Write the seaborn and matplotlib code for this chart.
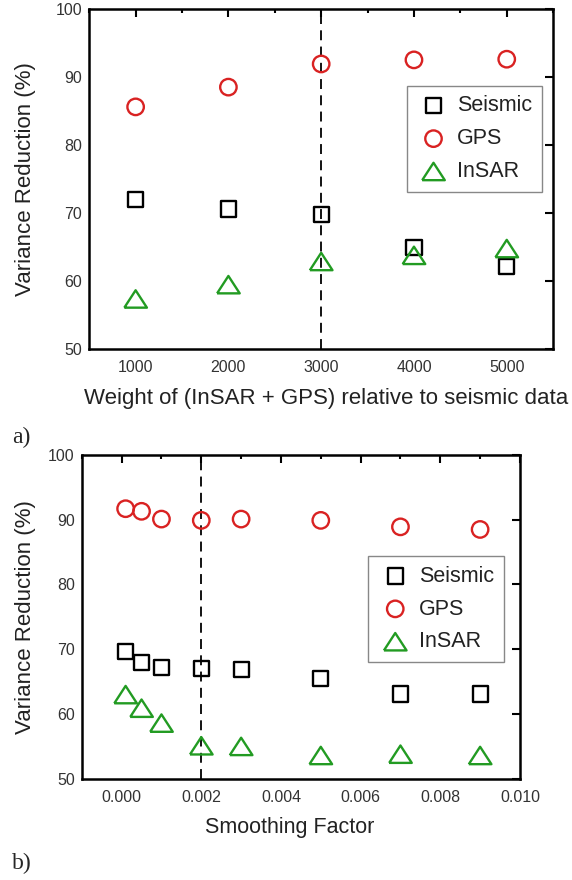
import matplotlib
matplotlib.use('Agg')
import matplotlib.pyplot as plt
from matplotlib.ticker import MultipleLocator, FormatStrFormatter
import seaborn as sns


# ==========================
# DADOS
# ==========================

peso = [1000, 2000, 3000, 4000, 5000]
peso_seismic = [72.0, 70.6, 69.8, 64.9, 62.2]
peso_gps = [85.6, 88.5, 91.9, 92.5, 92.6]
peso_insar = [57.4, 59.5, 62.9, 63.8, 64.8]

suavizacao = [0.0001, 0.0005, 0.001, 0.002, 0.003, 0.005, 0.007, 0.009]
suav_seismic = [69.6, 68.0, 67.2, 67.0, 66.9, 65.5, 63.1, 63.1]
suav_gps = [91.7, 91.3, 90.1, 89.9, 90.1, 89.9, 88.9, 88.5]
suav_insar = [63.0, 60.9, 58.6, 55.1, 55.0, 53.6, 53.8, 53.6]

series_labels = ['Seismic', 'GPS', 'InSAR']


# ==========================
# CONFIGURAÇÕES
# ==========================

sns.set_theme(style='white')
plt.rcParams['font.family'] = ['Liberation Sans', 'DejaVu Sans']
plt.rcParams['axes.edgecolor'] = 'black'

# triangulo um pouco achatado, como no original
tri = [(-1, -0.77), (1, -0.77), (0, 0.77), (-1, -0.77)]

estilos = {
    'Seismic': dict(marker='s', s=120, edgecolor='black'),
    'GPS': dict(marker='o', s=140, edgecolor='#d92222'),
    'InSAR': dict(marker=tri, s=265, edgecolor='#229b22'),
}


def painel(ax, x, valores, xlim, major, minor, fmt, vline, legend_anchor, labelpad_y):
    for nome, y in zip(series_labels, valores):
        sns.scatterplot(
            x=x, y=y, ax=ax,
            facecolor='none', linewidth=1.7,
            label=nome, zorder=3,
            **estilos[nome]
        )

    ax.axvline(vline, color='black', lw=1.3, ls=(0, (5.5, 3.5)), zorder=2)

    ax.set_xlim(*xlim)
    ax.set_ylim(50, 100)
    ax.xaxis.set_major_locator(MultipleLocator(major))
    ax.xaxis.set_minor_locator(MultipleLocator(minor))
    ax.xaxis.set_major_formatter(FormatStrFormatter(fmt))
    ax.yaxis.set_major_locator(MultipleLocator(10))

    ax.tick_params(which='both', direction='in', top=True, right=True,
                   width=1.5, colors='black', labelcolor='#333333',
                   labelsize=11.5)
    ax.tick_params(which='major', length=5.5)
    ax.tick_params(which='minor', length=3)
    ax.tick_params(axis='x', which='major', pad=8)
    ax.tick_params(axis='y', which='major', pad=5)

    for sp in ax.spines.values():
        sp.set_linewidth(1.8)

    ax.set_ylabel('Variance Reduction (%)', fontsize=16, color='#222222',
                  labelpad=labelpad_y)

    leg = ax.legend(
        loc='upper right', bbox_to_anchor=legend_anchor,
        fontsize=15.5, frameon=True, fancybox=False,
        edgecolor='#888888', framealpha=1,
        borderpad=0.45, labelspacing=0.55,
        handlelength=1.6, handletextpad=0.3,
        borderaxespad=0, scatterpoints=1
    )
    leg.get_frame().set_linewidth(1.0)
    for t in leg.get_texts():
        t.set_color('#222222')


fig = plt.figure(figsize=(5.72, 8.8), dpi=100)
fig.patch.set_facecolor('white')


# ==========================
# PAINEL A
# ==========================

ax1 = fig.add_axes([0.156, 0.603, 0.811, 0.387])
painel(ax1, peso, [peso_seismic, peso_gps, peso_insar],
       (500, 5500), 1000, 500, '%d', 3000, (0.976, 0.774), 14)
ax1.set_xlabel('Weight of (InSAR + GPS) relative to seismic data',
               fontsize=16, color='#222222', labelpad=9)
ax1.xaxis.label.set_x(0.51)


# ==========================
# PAINEL B
# ==========================

ax2 = fig.add_axes([0.143, 0.115, 0.766, 0.368])
painel(ax2, suavizacao, [suav_seismic, suav_gps, suav_insar],
       (-0.001, 0.010), 0.002, 0.001, '%.3f', 0.002, (0.963, 0.688), 9)
ax2.set_xlabel('Smoothing Factor', fontsize=15.5, color='#222222',
               labelpad=9)
ax2.xaxis.label.set_x(0.475)


# ==========================
# RÓTULOS a) b)
# ==========================

fig.text(0.021, 1 - 437 / 880, 'a)', family='Liberation Serif',
         fontsize=17, va='center', ha='left')
fig.text(0.021, 1 - 863 / 880, 'b)', family='Liberation Serif',
         fontsize=17, va='center', ha='left')

plt.savefig('out.png', dpi=100)
plt.close()
